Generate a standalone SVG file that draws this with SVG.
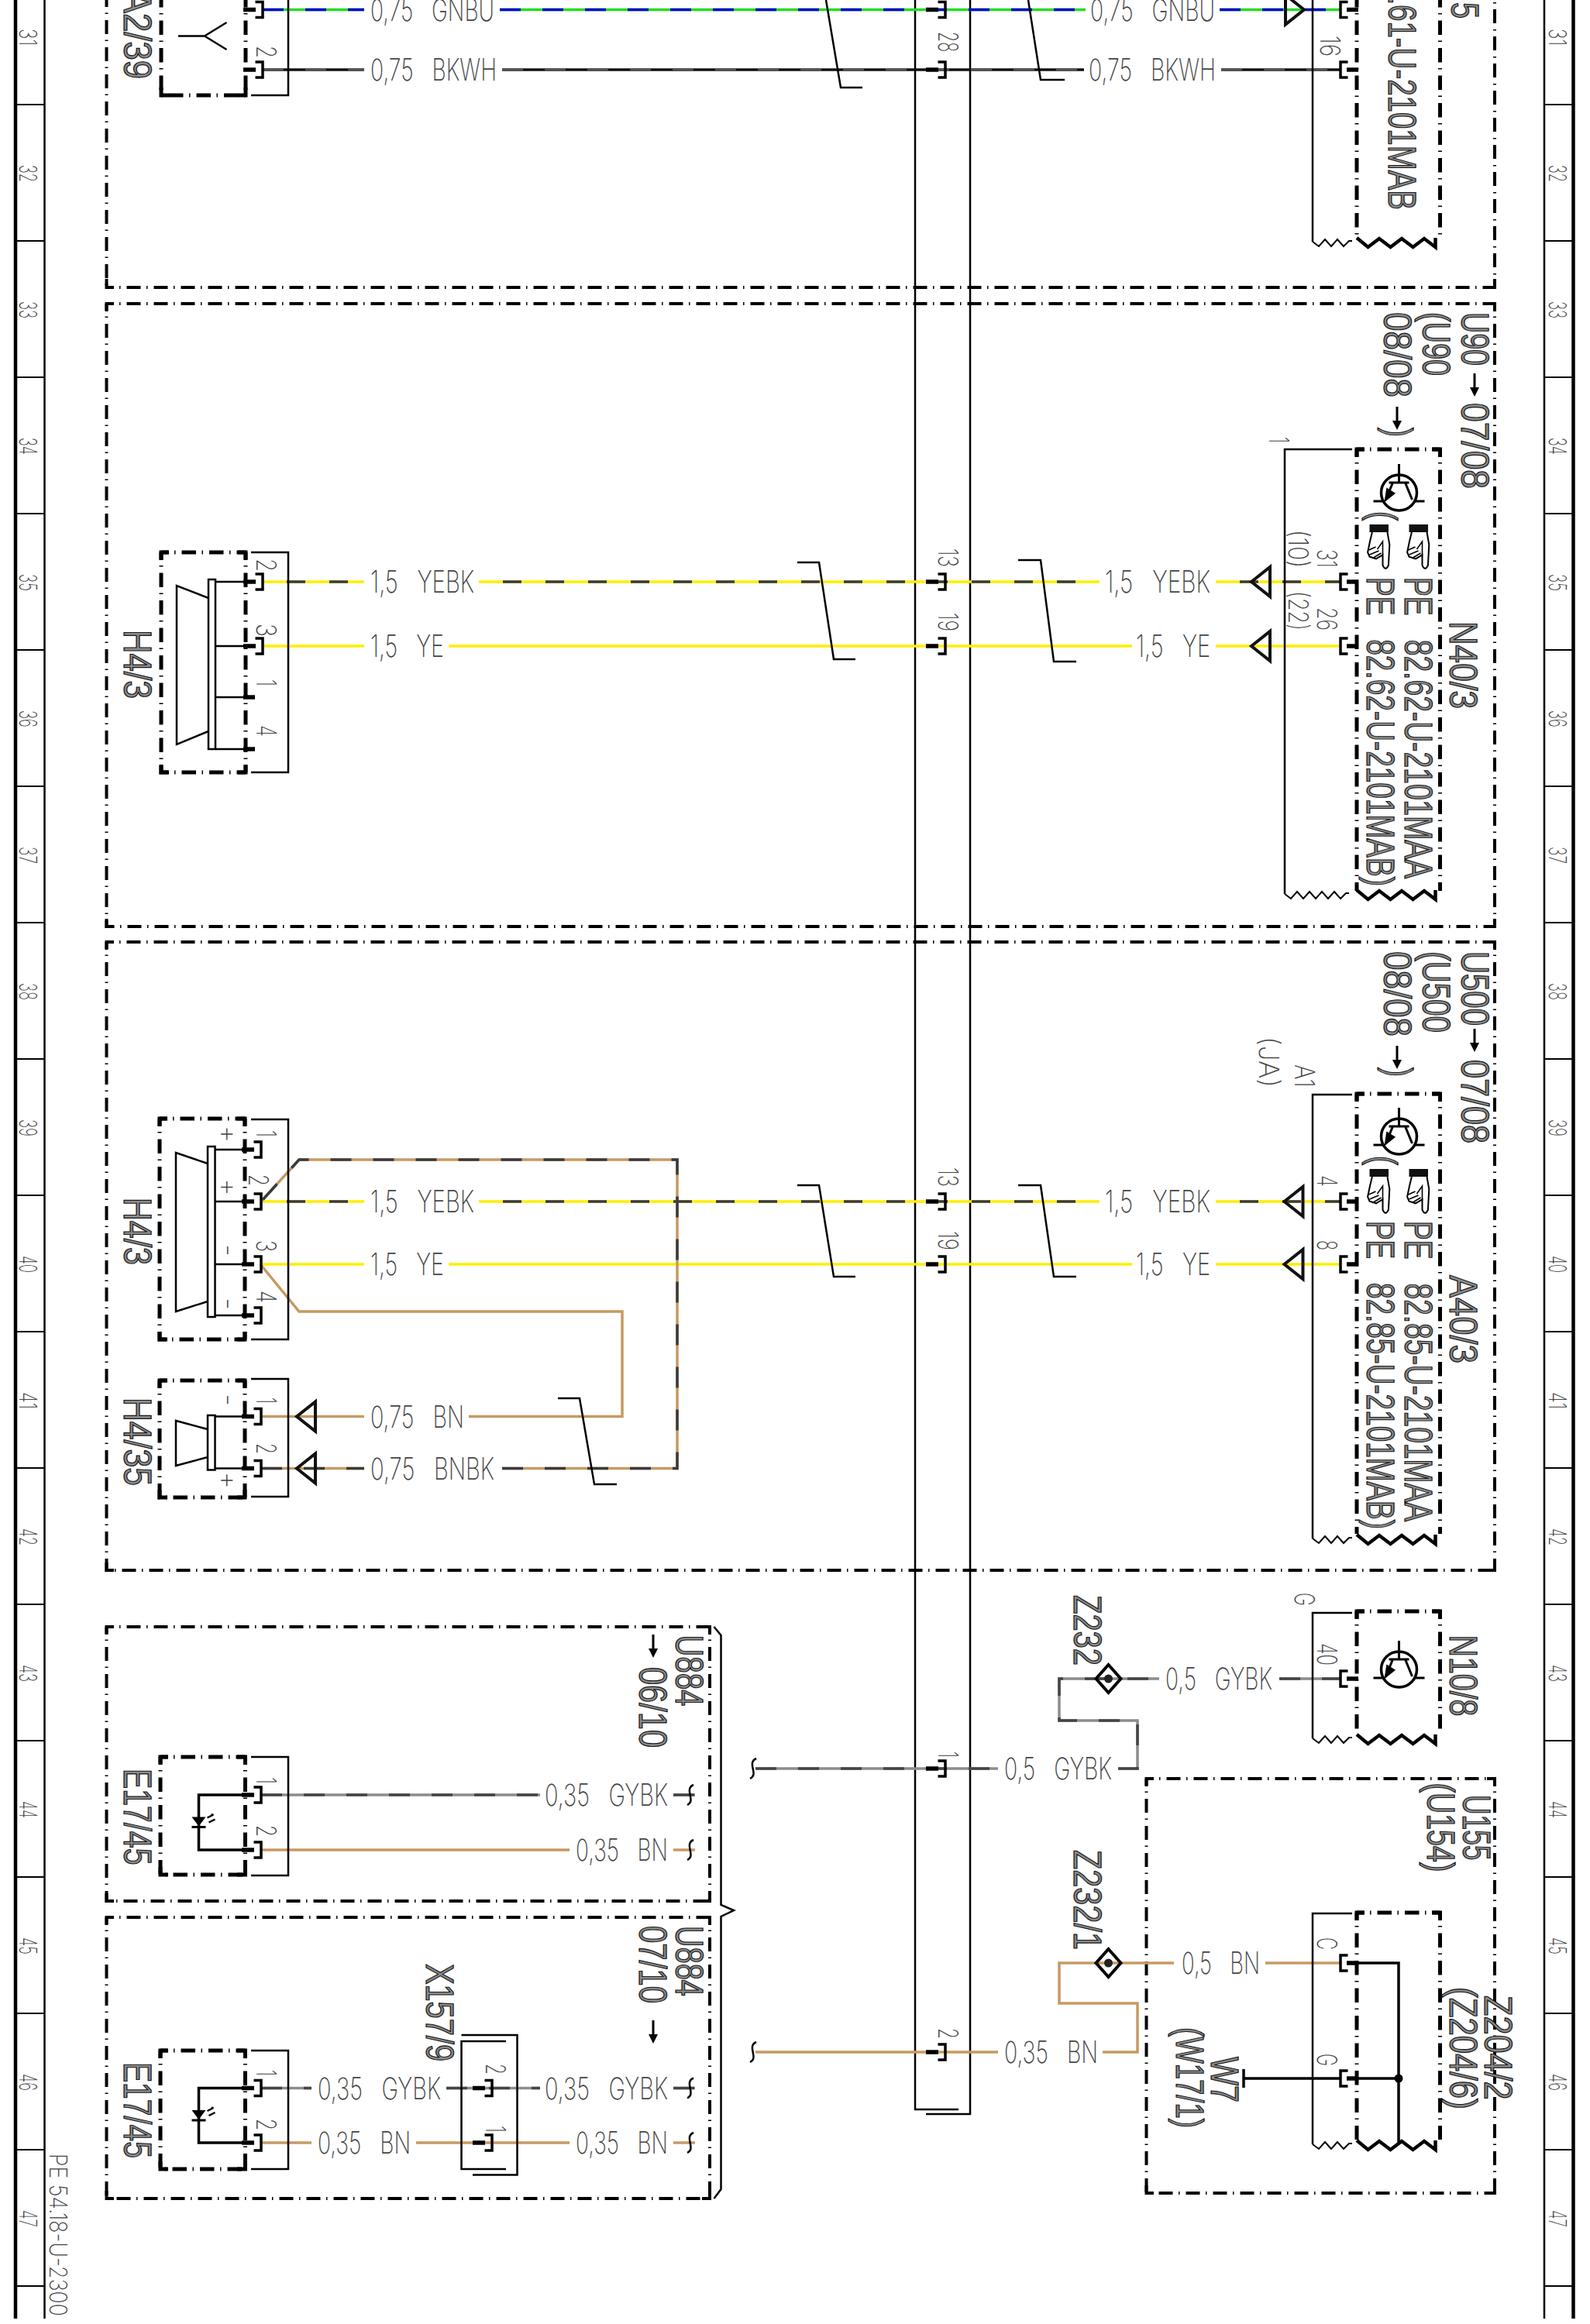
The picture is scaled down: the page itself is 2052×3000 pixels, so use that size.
<svg xmlns="http://www.w3.org/2000/svg" width="2052" height="3000" viewBox="0 0 2052 3000">
<style>
text{font-family:"Inter","Liberation Sans",sans-serif;white-space:pre}
.t{font-size:39px;font-weight:200;fill:#444}
.p{font-size:35px;font-weight:200;fill:#444}
.r{font-size:31px;font-weight:200;fill:#444}
.c{font-family:"Liberation Sans",sans-serif;font-size:50px;fill:#8a8a8a;stroke:#1a1a1a;stroke-width:1.3}
.fr{fill:none;stroke:#000;stroke-width:4;stroke-dasharray:18 7.5 1.5 8;stroke-dashoffset:9}
.fc{fill:none;stroke:#000;stroke-width:4}
.md{fill:none;stroke:#000;stroke-width:5;stroke-dasharray:18.5 7.5 1.5 8;stroke-dashoffset:9}
.mc{fill:none;stroke:#000;stroke-width:5}
.l{fill:none;stroke:#000;stroke-width:2.5}
.b{fill:none;stroke:#000;stroke-width:3.5}
.w{fill:none;stroke-width:3.5}
.ye{stroke:#ffee00}.gn{stroke:#22dd22}.bn{stroke:#c69a62}.gy{stroke:#8c8c8c}.bk{stroke:#111}.bd{stroke:#2a2a2a}
.dye{stroke:#3a3a3a;stroke-dasharray:24 31}
.dbu{stroke:#0000c8;stroke-dasharray:27 28}
.dbw{stroke:#555;stroke-dasharray:27 28}
.dbn{stroke:#3a3a3a;stroke-dasharray:27 28}
.dgy{stroke:#444;stroke-dasharray:27 28}
.tri{fill:none;stroke:#111;stroke-width:4}
</style>
<defs>
<g id="pL"><path d="M-9.5,-10H0V10H-9.5" class="b"/><path d="M-25,0H-9" fill="none" stroke="#000" stroke-width="5.5"/></g>
<g id="pR"><path d="M9.5,-10H0V10H9.5" class="b"/><path d="M8,0H23" fill="none" stroke="#000" stroke-width="5.5"/></g>
<path id="tr" class="tri" d="M0,0L24,-19V19Z"/>
<path id="zt" d="M0,-7l14.5,12 14.5,-11 14.5,11 14.5,-11 14.5,11 14.5,-11 14.5,11v-12" fill="none" stroke="#000" stroke-width="4.5"/>
<path id="zn" d="M0,0l8,6 8,-9 8,9 8,-9 8,9 7,-7h4" fill="none" stroke="#000" stroke-width="2"/>
<path id="zn2" d="M0,0l8,6 8,-9 8,9 8,-9 8,9 8,-9 8,9 8,-9 8,9 7,-7h4" fill="none" stroke="#000" stroke-width="2"/>
<g id="tx" fill="none" stroke="#000" stroke-width="3"><circle r="23" stroke-width="3.5"/><path d="M0,-37V-13M-13,-13H13M-8,-13L-17,9M8,-13L17,9M-33,11H-20M20,11H33"/><path d="M-17,9L-15,-4L-7,1Z" fill="#000"/></g>
<g id="hand"><rect x="0" y="0" width="24.5" height="10" fill="#111"/><path d="M3.4,10L.7,21L-2.4,36L0,41.7L8.5,44.3L17,39.3L17,52.7Q20.4,61 24.4,52.7L25.8,26L23,10" fill="#fff" stroke="#000" stroke-width="2"/><path d="M17,39V22L10,32M-1,33l9,-4M0,39l12,-5M5,43l10,-6" fill="none" stroke="#000" stroke-width="1.6"/></g>
<g id="ar"><path d="M0,-15V6" fill="none" stroke="#000" stroke-width="3"/><path d="M-6,3H6L0,15Z" fill="#000"/></g>
<path id="ti" d="M5,-13C-8,-7 9,7 -3,13" fill="none" stroke="#000" stroke-width="2.5"/>
<g id="led" ><path d="M-9,-12H9L0,0Z" fill="#000"/><path d="M-9,1H9" stroke="#000" stroke-width="3"/><path d="M11,-11l8,-4M19,-15l-3,0M13,-5l8,-4" stroke="#000" stroke-width="2.5" fill="none"/></g>
</defs>

<g id="rails" fill="none" stroke="#000">
<path d="M20,0V2993M2030.5,0V2993" stroke-width="4.5"/>
<path d="M57.5,0V2993M1993,0V2993" stroke-width="2.5"/>
<path stroke-width="2" d="M20,135H57M20,311H57M20,487H57M20,663H57M20,839H57M20,1015H57M20,1191H57M20,1367H57M20,1543H57M20,1719H57M20,1895H57M20,2071H57M20,2247H57M20,2423H57M20,2599H57M20,2775H57M20,2951H57M1993,135H2030M1993,311H2030M1993,487H2030M1993,663H2030M1993,839H2030M1993,1015H2030M1993,1191H2030M1993,1367H2030M1993,1543H2030M1993,1719H2030M1993,1895H2030M1993,2071H2030M1993,2247H2030M1993,2423H2030M1993,2599H2030M1993,2775H2030M1993,2951H2030"/>
</g>
<g id="rail-labels" class="r">
<text class="r" transform="translate(25,37) rotate(90)" textLength="22" lengthAdjust="spacingAndGlyphs">31</text>
<text class="r" transform="translate(25,213) rotate(90)" textLength="22" lengthAdjust="spacingAndGlyphs">32</text>
<text class="r" transform="translate(25,389) rotate(90)" textLength="22" lengthAdjust="spacingAndGlyphs">33</text>
<text class="r" transform="translate(25,565) rotate(90)" textLength="22" lengthAdjust="spacingAndGlyphs">34</text>
<text class="r" transform="translate(25,741) rotate(90)" textLength="22" lengthAdjust="spacingAndGlyphs">35</text>
<text class="r" transform="translate(25,917) rotate(90)" textLength="22" lengthAdjust="spacingAndGlyphs">36</text>
<text class="r" transform="translate(25,1093) rotate(90)" textLength="22" lengthAdjust="spacingAndGlyphs">37</text>
<text class="r" transform="translate(25,1269) rotate(90)" textLength="22" lengthAdjust="spacingAndGlyphs">38</text>
<text class="r" transform="translate(25,1445) rotate(90)" textLength="22" lengthAdjust="spacingAndGlyphs">39</text>
<text class="r" transform="translate(25,1621) rotate(90)" textLength="22" lengthAdjust="spacingAndGlyphs">40</text>
<text class="r" transform="translate(25,1797) rotate(90)" textLength="22" lengthAdjust="spacingAndGlyphs">41</text>
<text class="r" transform="translate(25,1973) rotate(90)" textLength="22" lengthAdjust="spacingAndGlyphs">42</text>
<text class="r" transform="translate(25,2149) rotate(90)" textLength="22" lengthAdjust="spacingAndGlyphs">43</text>
<text class="r" transform="translate(25,2325) rotate(90)" textLength="22" lengthAdjust="spacingAndGlyphs">44</text>
<text class="r" transform="translate(25,2501) rotate(90)" textLength="22" lengthAdjust="spacingAndGlyphs">45</text>
<text class="r" transform="translate(25,2677) rotate(90)" textLength="22" lengthAdjust="spacingAndGlyphs">46</text>
<text class="r" transform="translate(25,2853) rotate(90)" textLength="22" lengthAdjust="spacingAndGlyphs">47</text>
<text class="r" transform="translate(1999,37) rotate(90)" textLength="22" lengthAdjust="spacingAndGlyphs">31</text>
<text class="r" transform="translate(1999,213) rotate(90)" textLength="22" lengthAdjust="spacingAndGlyphs">32</text>
<text class="r" transform="translate(1999,389) rotate(90)" textLength="22" lengthAdjust="spacingAndGlyphs">33</text>
<text class="r" transform="translate(1999,565) rotate(90)" textLength="22" lengthAdjust="spacingAndGlyphs">34</text>
<text class="r" transform="translate(1999,741) rotate(90)" textLength="22" lengthAdjust="spacingAndGlyphs">35</text>
<text class="r" transform="translate(1999,917) rotate(90)" textLength="22" lengthAdjust="spacingAndGlyphs">36</text>
<text class="r" transform="translate(1999,1093) rotate(90)" textLength="22" lengthAdjust="spacingAndGlyphs">37</text>
<text class="r" transform="translate(1999,1269) rotate(90)" textLength="22" lengthAdjust="spacingAndGlyphs">38</text>
<text class="r" transform="translate(1999,1445) rotate(90)" textLength="22" lengthAdjust="spacingAndGlyphs">39</text>
<text class="r" transform="translate(1999,1621) rotate(90)" textLength="22" lengthAdjust="spacingAndGlyphs">40</text>
<text class="r" transform="translate(1999,1797) rotate(90)" textLength="22" lengthAdjust="spacingAndGlyphs">41</text>
<text class="r" transform="translate(1999,1973) rotate(90)" textLength="22" lengthAdjust="spacingAndGlyphs">42</text>
<text class="r" transform="translate(1999,2149) rotate(90)" textLength="22" lengthAdjust="spacingAndGlyphs">43</text>
<text class="r" transform="translate(1999,2325) rotate(90)" textLength="22" lengthAdjust="spacingAndGlyphs">44</text>
<text class="r" transform="translate(1999,2501) rotate(90)" textLength="22" lengthAdjust="spacingAndGlyphs">45</text>
<text class="r" transform="translate(1999,2677) rotate(90)" textLength="22" lengthAdjust="spacingAndGlyphs">46</text>
<text class="r" transform="translate(1999,2853) rotate(90)" textLength="22" lengthAdjust="spacingAndGlyphs">47</text>
<text class="r" transform="translate(64,2780) rotate(90)" textLength="210" lengthAdjust="spacingAndGlyphs">PE 54.18-U-2300</text>
</g>

<g id="frames">
<path class="fr" d="M137.5,0V371M137.5,371H1929M1929,371V0"/>
<path class="fc" d="M137.5,360V371H147M1919,371H1929V360"/>
<path class="fr" d="M137.5,392H1929M137.5,392V1196H1929M1929,392V1196"/>
<path class="fc" d="M137.5,402V392H147M1919,392H1929V402M137.5,1186V1196H147M1919,1196H1929V1186"/>
<path class="fr" d="M137.5,1216H1929M137.5,1216V2027H1929M1929,1216V2027"/>
<path class="fc" d="M137.5,1226V1216H147M1919,1216H1929V1226M137.5,2017V2027H147M1919,2027H1929V2017"/>
<path class="fr" d="M137.5,2100H916M137.5,2100V2454H916M916,2100V2454"/>
<path class="fc" d="M137.5,2110V2100H147M906,2100H916V2110M137.5,2444V2454H147M906,2454H916V2444"/>
<path class="fr" d="M137.5,2475H916M137.5,2475V2838H916M916,2475V2838"/>
<path class="fc" d="M137.5,2485V2475H147M906,2475H916V2485M137.5,2828V2838H147M906,2838H916V2828"/>
<path class="fr" d="M1479.5,2296H1929M1479.5,2296V2831H1929M1929,2296V2831"/>
<path class="fc" d="M1479.5,2306V2296H1489M1919,2296H1929V2306M1479.5,2821V2831H1489M1919,2831H1929V2821"/>
<path id="brace" class="l" d="M921.5,2100L930.5,2111V2459L947,2466L930.5,2474V2826L921.5,2838" stroke-width="3"/>
</g>

<g id="bus"><path class="l" d="M1181,0V2723H1237M1252,0V2729H1195"/></g>

<g id="connectors">
<path class="w gn" d="M339,12.5H470M645,12.5H1401M1574,12.5H1730"/><path class="w dbu" d="M339,12.5H470M645,12.5H1401M1574,12.5H1730"/>
<path class="w bk" d="M339,90H470M648,90H1399M1576,90H1730"/><path class="w dbw" d="M339,90H470M648,90H1399M1576,90H1730"/>
<path class="w ye" d="M339,751H470M618,751H1419M1569,751H1730"/><path class="w dye" stroke-dashoffset="-31" d="M339,751H470M618,751H1419M1569,751H1730"/>
<path class="w ye" d="M339,834H470M579,834H1461M1569,834H1730"/>
<path class="w ye" d="M339,1551H470M618,1551H1419M1569,1551H1730"/><path class="w dye" stroke-dashoffset="-31" d="M339,1551H470M618,1551H1419M1569,1551H1730"/>
<path class="w ye" d="M339,1632H470M579,1632H1461M1569,1632H1730"/>
<path class="w bn" d="M337,1828.5H470M605,1828.5H803V1693H386L336,1632"/>
<path class="w bn" d="M337,1895.5H470M648,1895.5H874V1497H386L337,1551"/><path class="w dbn" d="M337,1895.5H470M648,1895.5H874V1497H386L337,1551"/>
<path class="w gy" d="M337,2317H697M869,2317H897"/><path class="w dgy" d="M337,2317H697M869,2317H897"/>
<path class="w bn" d="M337,2388H735M869,2388H897"/>
<path class="w gy" d="M337,2695.5H402M576,2695.5H697M869,2695.5H897"/><path class="w dgy" d="M337,2695.5H402M576,2695.5H697M869,2695.5H897"/>
<path class="w bn" d="M337,2766H402M537,2766H735M869,2766H897"/>
<path class="w gy" d="M975,2283H1288M1443,2283H1468V2221H1367V2167H1496M1651,2167H1730"/><path class="w dgy" d="M975,2283H1288M1443,2283H1468V2221H1367V2167H1496M1651,2167H1730"/>
<path class="w bn" d="M975,2649H1288M1423,2649H1468V2586H1367V2534H1515M1633,2534H1730"/>
<path class="l" stroke-width="2.5" d="M1066,0L1085,113H1113M1327,0L1343,103H1374M1029,726H1057L1076,851H1104M1314,723H1343L1360,854H1389M1029,1530H1057L1076,1648H1104M1314,1530H1343L1360,1648H1389M720,1805H748L767,1916H796"/>
<use href="#ti" x="890" y="2317"/><use href="#ti" x="890" y="2388"/><use href="#ti" x="890" y="2695.5"/><use href="#ti" x="890" y="2766"/><use href="#ti" x="971" y="2283"/><use href="#ti" x="971" y="2649"/>
<use href="#tr" x="1615" y="751"/><use href="#tr" x="1615" y="834"/><use href="#tr" x="1657.5" y="1551"/><use href="#tr" x="1657.5" y="1632"/><use href="#tr" x="383" y="1828.5"/><use href="#tr" x="383" y="1895.5"/>
<path class="tri" d="M1683,12.5L1659,-6.5V31.5Z"/>
<use href="#pL" x="1220" y="12.5"/><use href="#pL" x="1220" y="90"/><use href="#pL" x="1220" y="751"/><use href="#pL" x="1220" y="834"/><use href="#pL" x="1220" y="1551"/><use href="#pL" x="1220" y="1632"/><use href="#pL" x="1220" y="2283"/><use href="#pL" x="1220" y="2649"/>
</g>

<g id="wire-labels">
<text class="t" x="478" y="26.5" textLength="160" lengthAdjust="spacingAndGlyphs">0,75   GNBU</text>
<text class="t" x="1407" y="26.5" textLength="161" lengthAdjust="spacingAndGlyphs">0,75   GNBU</text>
<text class="t" x="478" y="104" textLength="163" lengthAdjust="spacingAndGlyphs">0,75   BKWH</text>
<text class="t" x="1405" y="104" textLength="164" lengthAdjust="spacingAndGlyphs">0,75   BKWH</text>
<text class="t" x="478" y="765" textLength="134" lengthAdjust="spacingAndGlyphs">1,5   YEBK</text>
<text class="t" x="1426" y="765" textLength="136" lengthAdjust="spacingAndGlyphs">1,5   YEBK</text>
<text class="t" x="478" y="848" textLength="95" lengthAdjust="spacingAndGlyphs">1,5   YE</text>
<text class="t" x="1466" y="848" textLength="96" lengthAdjust="spacingAndGlyphs">1,5   YE</text>
<text class="t" x="478" y="1565" textLength="134" lengthAdjust="spacingAndGlyphs">1,5   YEBK</text>
<text class="t" x="1426" y="1565" textLength="136" lengthAdjust="spacingAndGlyphs">1,5   YEBK</text>
<text class="t" x="478" y="1646" textLength="95" lengthAdjust="spacingAndGlyphs">1,5   YE</text>
<text class="t" x="1466" y="1646" textLength="96" lengthAdjust="spacingAndGlyphs">1,5   YE</text>
<text class="t" x="478" y="1842.5" textLength="121" lengthAdjust="spacingAndGlyphs">0,75   BN</text>
<text class="t" x="478" y="1909.5" textLength="160" lengthAdjust="spacingAndGlyphs">0,75   BNBK</text>
<text class="t" x="703" y="2331" textLength="159" lengthAdjust="spacingAndGlyphs">0,35   GYBK</text>
<text class="t" x="743" y="2402" textLength="119" lengthAdjust="spacingAndGlyphs">0,35   BN</text>
<text class="t" x="410" y="2709.5" textLength="159" lengthAdjust="spacingAndGlyphs">0,35   GYBK</text>
<text class="t" x="703" y="2709.5" textLength="159" lengthAdjust="spacingAndGlyphs">0,35   GYBK</text>
<text class="t" x="410" y="2780" textLength="120" lengthAdjust="spacingAndGlyphs">0,35   BN</text>
<text class="t" x="743" y="2780" textLength="119" lengthAdjust="spacingAndGlyphs">0,35   BN</text>
<text class="t" x="1504" y="2181" textLength="138" lengthAdjust="spacingAndGlyphs">0,5   GYBK</text>
<text class="t" x="1296" y="2297" textLength="139" lengthAdjust="spacingAndGlyphs">0,5   GYBK</text>
<text class="t" x="1525" y="2548" textLength="101" lengthAdjust="spacingAndGlyphs">0,5   BN</text>
<text class="t" x="1296" y="2663" textLength="121" lengthAdjust="spacingAndGlyphs">0,35   BN</text>
</g>

<g id="bus-pins">
<text class="p" transform="translate(1211,41) rotate(90)" textLength="26" lengthAdjust="spacingAndGlyphs">28</text>
<text class="p" transform="translate(1211,708) rotate(90)" textLength="24" lengthAdjust="spacingAndGlyphs">13</text>
<text class="p" transform="translate(1211,791) rotate(90)" textLength="24" lengthAdjust="spacingAndGlyphs">19</text>
<text class="p" transform="translate(1211,1507) rotate(90)" textLength="25" lengthAdjust="spacingAndGlyphs">13</text>
<text class="p" transform="translate(1211,1589) rotate(90)" textLength="25" lengthAdjust="spacingAndGlyphs">19</text>
<text class="p" transform="translate(1211,2261) rotate(90)" textLength="8" lengthAdjust="spacingAndGlyphs">1</text>
<text class="p" transform="translate(1211,2618) rotate(90)" textLength="14" lengthAdjust="spacingAndGlyphs">2</text>
</g>

<g id="A2-39">
<path class="md" d="M208,0V123H317M317,0V123"/><path class="mc" d="M208,113V123H218M307,123H317V113"/>
<path class="l" d="M324,123H372V0"/>
<path d="M230,46.5H264L292.5,29M264,46.5L292.5,64" class="l"/>
<use href="#pL" x="339" y="12.5"/><use href="#pL" x="339" y="90"/>
<text class="p" transform="translate(331,59) rotate(90)" textLength="16" lengthAdjust="spacingAndGlyphs">2</text>
<text class="c" transform="translate(160,-12) rotate(90)" textLength="114" lengthAdjust="spacingAndGlyphs">A2/39</text>
</g>

<g id="module-top-right">
<path class="md" d="M1751,0V306M1858.5,0V306"/>
<path class="l" d="M1694,0V312"/><use href="#zn" x="1694" y="312"/><use href="#zt" x="1751" y="314"/>
<use href="#pR" x="1730" y="12.5"/><use href="#pR" x="1730" y="90"/>
<text class="p" transform="translate(1704,46) rotate(90)" textLength="27" lengthAdjust="spacingAndGlyphs">16</text>
<text class="c" transform="translate(1792,-26) rotate(90)" textLength="297" lengthAdjust="spacingAndGlyphs">0.61-U-2101MAB</text>
<text class="c" transform="translate(1873,3) rotate(90)" textLength="21" lengthAdjust="spacingAndGlyphs">5</text>
</g>

<g id="H4-3-a">
<path class="md" d="M208,713H317M208,713V997H317M317,713V997"/><path class="mc" d="M208,723V713H218M307,713H317V723M208,987V997H218M307,997H317V987"/>
<path class="l" d="M324,713H372V997H324"/>
<path class="l" d="M269,772L228,756V961L269,944"/><rect class="l" x="269" y="748" width="9" height="219"/>
<path class="l" d="M278,751H314M278,834H314M278,900H314M278,967H314"/>
<use href="#pL" x="339" y="751"/><use href="#pL" x="339" y="834"/>
<path d="M314,900H329M314,967H329" stroke="#000" stroke-width="5.5" fill="none"/>
<text class="p" transform="translate(331,721) rotate(90)" textLength="17" lengthAdjust="spacingAndGlyphs">2</text>
<text class="p" transform="translate(331,805) rotate(90)" textLength="17" lengthAdjust="spacingAndGlyphs">3</text>
<text class="p" transform="translate(331,877) rotate(90)" textLength="9" lengthAdjust="spacingAndGlyphs">1</text>
<text class="p" transform="translate(331,936) rotate(90)" textLength="15" lengthAdjust="spacingAndGlyphs">4</text>
<text class="c" transform="translate(160,813) rotate(90)" textLength="89" lengthAdjust="spacingAndGlyphs">H4/3</text>
</g>

<g id="N40-3">
<path class="md" d="M1751,580H1858.5M1751,580V1150M1858.5,580V1150"/><path class="mc" d="M1751,590V580H1761M1848,580H1858.5V590"/>
<path class="l" d="M1745,580H1658V1154"/><use href="#zn2" x="1658" y="1154"/><use href="#zt" x="1751" y="1156"/>
<use href="#pR" x="1730" y="751"/><use href="#pR" x="1730" y="834"/>
<use href="#tx" x="1805.5" y="636"/>
<use href="#hand" x="1767.5" y="677"/><use href="#hand" x="1818.5" y="677"/>
<text class="c" transform="translate(1768,660) rotate(90)" textLength="12" lengthAdjust="spacingAndGlyphs">(</text>
<text class="c" transform="translate(1813,745) rotate(90)" textLength="389" lengthAdjust="spacingAndGlyphs">PE   82.62-U-2101MAA</text>
<text class="c" transform="translate(1763.5,745) rotate(90)" textLength="399" lengthAdjust="spacingAndGlyphs">PE   82.62-U-2101MAB)</text>
<text class="c" transform="translate(1871,802) rotate(90)" textLength="113" lengthAdjust="spacingAndGlyphs">N40/3</text>
<text class="c" transform="translate(1886,403) rotate(90)" textLength="69" lengthAdjust="spacingAndGlyphs">U90</text>
<use href="#ar" x="1903" y="497"/>
<text class="c" transform="translate(1886,520) rotate(90)" textLength="111" lengthAdjust="spacingAndGlyphs">07/08</text>
<text class="c" transform="translate(1836,403) rotate(90)" textLength="82" lengthAdjust="spacingAndGlyphs">(U90</text>
<text class="c" transform="translate(1786,403) rotate(90)" textLength="110" lengthAdjust="spacingAndGlyphs">08/08</text>
<use href="#ar" x="1803" y="540"/>
<text class="c" transform="translate(1788,552) rotate(90)" textLength="12" lengthAdjust="spacingAndGlyphs">)</text>
<text class="p" transform="translate(1638,564) rotate(90)" textLength="8" lengthAdjust="spacingAndGlyphs">1</text>
<text class="p" transform="translate(1700,709) rotate(90)" textLength="24" lengthAdjust="spacingAndGlyphs">31</text>
<text class="p" transform="translate(1663,684) rotate(90)" textLength="49" lengthAdjust="spacingAndGlyphs">(10)</text>
<text class="p" transform="translate(1700,784) rotate(90)" textLength="30" lengthAdjust="spacingAndGlyphs">26</text>
<text class="p" transform="translate(1663,763) rotate(90)" textLength="51" lengthAdjust="spacingAndGlyphs">(22)</text>
</g>

<g id="H4-3-b">
<path class="md" d="M206,1444H316M206,1444V1729H316M316,1444V1729"/><path class="mc" d="M206,1454V1444H216M306,1444H316V1454M206,1719V1729H216M306,1729H316V1719"/>
<path class="l" d="M324,1445H372V1729H324"/>
<path class="l" d="M268,1502L227,1488V1693L268,1680"/><rect class="l" x="268" y="1480" width="9.5" height="220"/>
<path class="l" d="M277.5,1484H314M277.5,1551H314M277.5,1632H314M277.5,1698H314"/>
<use href="#pL" x="337" y="1484"/><use href="#pL" x="337" y="1551"/><use href="#pL" x="337" y="1632"/><use href="#pL" x="337" y="1698"/>
<text class="p" transform="translate(331,1459) rotate(90)" textLength="9" lengthAdjust="spacingAndGlyphs">1</text>
<text class="p" transform="translate(321,1516) rotate(90)" textLength="15" lengthAdjust="spacingAndGlyphs">2</text>
<text class="p" transform="translate(331,1601) rotate(90)" textLength="15" lengthAdjust="spacingAndGlyphs">3</text>
<text class="p" transform="translate(331,1666) rotate(90)" textLength="16" lengthAdjust="spacingAndGlyphs">4</text>
<text class="p" text-anchor="middle" transform="translate(283,1464) rotate(90)">+</text>
<text class="p" text-anchor="middle" transform="translate(283,1532.5) rotate(90)">+</text>
<text class="p" text-anchor="middle" transform="translate(283,1614) rotate(90)">-</text>
<text class="p" text-anchor="middle" transform="translate(283,1683) rotate(90)">-</text>
<text class="c" transform="translate(160,1546) rotate(90)" textLength="87" lengthAdjust="spacingAndGlyphs">H4/3</text>
</g>

<g id="H4-35">
<path class="md" d="M206,1782H316M206,1782V1933H316M316,1782V1933"/><path class="mc" d="M206,1792V1782H216M306,1782H316V1792M206,1923V1933H216M306,1933H316V1923"/>
<path class="l" d="M324,1780H372V1932H324"/>
<path class="l" d="M268,1845L227,1834V1892L268,1881"/><rect class="l" x="268" y="1827" width="9.5" height="70.5"/>
<path class="l" d="M277.5,1828.5H314M277.5,1895.5H314"/>
<use href="#pL" x="337" y="1828.5"/><use href="#pL" x="337" y="1895.5"/>
<text class="p" transform="translate(331,1804) rotate(90)" textLength="8" lengthAdjust="spacingAndGlyphs">1</text>
<text class="p" transform="translate(331,1863) rotate(90)" textLength="14" lengthAdjust="spacingAndGlyphs">2</text>
<text class="p" text-anchor="middle" transform="translate(283,1807) rotate(90)">-</text>
<text class="p" text-anchor="middle" transform="translate(283,1911) rotate(90)">+</text>
<text class="c" transform="translate(160,1804) rotate(90)" textLength="114" lengthAdjust="spacingAndGlyphs">H4/35</text>
</g>

<g id="A40-3">
<path class="md" d="M1751,1412H1858.5M1751,1412V1980M1858.5,1412V1980"/><path class="mc" d="M1751,1422V1412H1761M1848,1412H1858.5V1422"/>
<path class="l" d="M1745,1413H1694V1986"/><use href="#zn" x="1694" y="1986"/><use href="#zt" x="1751" y="1988"/>
<use href="#pR" x="1730" y="1551"/><use href="#pR" x="1730" y="1632"/>
<use href="#tx" x="1805.5" y="1467"/>
<use href="#hand" x="1767.5" y="1509"/><use href="#hand" x="1818.5" y="1509"/>
<text class="c" transform="translate(1768,1492) rotate(90)" textLength="12" lengthAdjust="spacingAndGlyphs">(</text>
<text class="c" transform="translate(1813,1576) rotate(90)" textLength="388" lengthAdjust="spacingAndGlyphs">PE   82.85-U-2101MAA</text>
<text class="c" transform="translate(1763.5,1576) rotate(90)" textLength="398" lengthAdjust="spacingAndGlyphs">PE   82.85-U-2101MAB)</text>
<text class="c" transform="translate(1871,1646) rotate(90)" textLength="114" lengthAdjust="spacingAndGlyphs">A40/3</text>
<text class="c" transform="translate(1886,1228) rotate(90)" textLength="96" lengthAdjust="spacingAndGlyphs">U500</text>
<use href="#ar" x="1903" y="1343"/>
<text class="c" transform="translate(1886,1368) rotate(90)" textLength="108" lengthAdjust="spacingAndGlyphs">07/08</text>
<text class="c" transform="translate(1836,1228) rotate(90)" textLength="105" lengthAdjust="spacingAndGlyphs">(U500</text>
<text class="c" transform="translate(1786,1228) rotate(90)" textLength="110" lengthAdjust="spacingAndGlyphs">08/08</text>
<use href="#ar" x="1803" y="1365"/>
<text class="c" transform="translate(1788,1378) rotate(90)" textLength="12" lengthAdjust="spacingAndGlyphs">)</text>
<text class="p" transform="translate(1671,1374) rotate(90)" textLength="30" lengthAdjust="spacingAndGlyphs">A1</text>
<text class="p" transform="translate(1625,1338) rotate(90)" textLength="66" lengthAdjust="spacingAndGlyphs">(JA)</text>
<text class="p" transform="translate(1700,1517) rotate(90)" textLength="15" lengthAdjust="spacingAndGlyphs">4</text>
<text class="p" transform="translate(1700,1601) rotate(90)" textLength="13" lengthAdjust="spacingAndGlyphs">8</text>
</g>

<g id="E17-45-a">
<path class="md" d="M207,2268H316.5M207,2268V2420H316.5M316.5,2268V2420"/><path class="mc" d="M207,2278V2268H217M306,2268H316.5V2278M207,2410V2420H217M306,2420H316.5V2410"/>
<path class="l" d="M324,2268H372V2421H324"/>
<path d="M314,2317H256.5V2388H314" fill="none" stroke="#000" stroke-width="3.5"/>
<use href="#led" x="256.5" y="2357.5"/>
<use href="#pL" x="337" y="2317"/><use href="#pL" x="337" y="2388"/>
<text class="p" transform="translate(331,2294) rotate(90)" textLength="9" lengthAdjust="spacingAndGlyphs">1</text>
<text class="p" transform="translate(331,2356) rotate(90)" textLength="15" lengthAdjust="spacingAndGlyphs">2</text>
<text class="c" transform="translate(160,2283) rotate(90)" textLength="124.5" lengthAdjust="spacingAndGlyphs">E17/45</text>
<text class="c" transform="translate(872,2110.5) rotate(90)" textLength="92" lengthAdjust="spacingAndGlyphs">U884</text>
<text class="c" transform="translate(825,2152) rotate(90)" textLength="104" lengthAdjust="spacingAndGlyphs">06/10</text>
<use href="#ar" x="843" y="2125"/>
</g>

<g id="E17-45-b">
<path class="md" d="M207,2647H316.5M207,2647V2800H316.5M316.5,2647V2800"/><path class="mc" d="M207,2657V2647H217M306,2647H316.5V2657M207,2790V2800H217M306,2800H316.5V2790"/>
<path class="l" d="M324,2647H372V2800H324"/>
<path d="M314,2695.5H256.5V2766H314" fill="none" stroke="#000" stroke-width="3.5"/>
<use href="#led" x="256.5" y="2736"/>
<use href="#pL" x="337" y="2695.5"/><use href="#pL" x="337" y="2766"/>
<text class="p" transform="translate(331,2672) rotate(90)" textLength="8" lengthAdjust="spacingAndGlyphs">1</text>
<text class="p" transform="translate(331,2735) rotate(90)" textLength="15" lengthAdjust="spacingAndGlyphs">2</text>
<text class="c" transform="translate(160,2662) rotate(90)" textLength="124" lengthAdjust="spacingAndGlyphs">E17/45</text>
<text class="c" transform="translate(872,2486) rotate(90)" textLength="91" lengthAdjust="spacingAndGlyphs">U884</text>
<text class="c" transform="translate(825,2486) rotate(90)" textLength="100" lengthAdjust="spacingAndGlyphs">07/10</text>
<use href="#ar" x="843" y="2623"/>
</g>

<g id="X157-9">
<path class="l" d="M653,2635H595.5V2800H653M595.5,2627H667.5V2807.5H610"/>
<use href="#pL" x="635" y="2695.5"/><use href="#pL" x="635" y="2766"/>
<text class="p" transform="translate(627,2664) rotate(90)" textLength="14" lengthAdjust="spacingAndGlyphs">2</text>
<text class="p" transform="translate(627,2744) rotate(90)" textLength="9" lengthAdjust="spacingAndGlyphs">1</text>
<text class="c" transform="translate(550,2535) rotate(90)" textLength="126" lengthAdjust="spacingAndGlyphs">X157/9</text>
</g>

<g id="Z232">
<path d="M1430.5,2149L1446.5,2167L1430.5,2185L1414.5,2167Z" fill="none" stroke="#000" stroke-width="4"/><circle cx="1430.5" cy="2167" r="5.5" fill="#222"/>
<text class="c" transform="translate(1386,2059) rotate(90)" textLength="91" lengthAdjust="spacingAndGlyphs">Z232</text>
</g>
<g id="Z232-1">
<path d="M1430.5,2516L1446.5,2534L1430.5,2552L1414.5,2534Z" fill="none" stroke="#000" stroke-width="4"/><circle cx="1430.5" cy="2534" r="5.5" fill="#222"/>
<text class="c" transform="translate(1386,2388) rotate(90)" textLength="129" lengthAdjust="spacingAndGlyphs">Z232/1</text>
</g>

<g id="N10-8">
<path class="md" d="M1751,2080H1858.5M1751,2080V2238M1858.5,2080V2238"/><path class="mc" d="M1751,2090V2080H1761M1848,2080H1858.5V2090"/>
<path class="l" d="M1745,2082H1694V2244"/><use href="#zn" x="1694" y="2244"/><use href="#zt" x="1751" y="2246"/>
<use href="#pR" x="1730" y="2167"/>
<use href="#tx" x="1805.5" y="2155"/>
<text class="p" transform="translate(1671,2056) rotate(90)" textLength="17" lengthAdjust="spacingAndGlyphs">G</text>
<text class="p" transform="translate(1700,2121) rotate(90)" textLength="29" lengthAdjust="spacingAndGlyphs">40</text>
<text class="c" transform="translate(1871,2110.5) rotate(90)" textLength="105" lengthAdjust="spacingAndGlyphs">N10/8</text>
</g>

<g id="Z204-2">
<path class="md" d="M1751,2469H1858.5M1751,2469V2762M1858.5,2469V2762"/><path class="mc" d="M1751,2479V2469H1761M1848,2469H1858.5V2479"/>
<path class="l" d="M1745,2470H1694V2768"/><use href="#zn" x="1694" y="2768"/><use href="#zt" x="1751" y="2770"/>
<use href="#pR" x="1730" y="2534"/><use href="#pR" x="1730" y="2683"/>
<path d="M1752,2534H1805V2768M1605,2671V2695M1605,2683H1730M1752,2683H1805" fill="none" stroke="#000" stroke-width="3.5"/>
<circle cx="1805" cy="2683" r="5.5" fill="#000"/>
<text class="p" transform="translate(1700,2501) rotate(90)" textLength="16" lengthAdjust="spacingAndGlyphs">C</text>
<text class="p" transform="translate(1700,2651) rotate(90)" textLength="16" lengthAdjust="spacingAndGlyphs">G</text>
<text class="c" transform="translate(1563,2655) rotate(90)" textLength="59" lengthAdjust="spacingAndGlyphs">W7</text>
<text class="c" transform="translate(1518,2617) rotate(90)" textLength="130" lengthAdjust="spacingAndGlyphs">(W17/1)</text>
<text class="c" transform="translate(1888,2317) rotate(90)" textLength="84.5" lengthAdjust="spacingAndGlyphs">U155</text>
<text class="c" transform="translate(1842,2301.5) rotate(90)" textLength="115" lengthAdjust="spacingAndGlyphs">(U154)</text>
<text class="c" transform="translate(1916,2576) rotate(90)" textLength="134.5" lengthAdjust="spacingAndGlyphs">Z204/2</text>
<text class="c" transform="translate(1871,2565) rotate(90)" textLength="158" lengthAdjust="spacingAndGlyphs">(Z204/6)</text>
</g>
</svg>
